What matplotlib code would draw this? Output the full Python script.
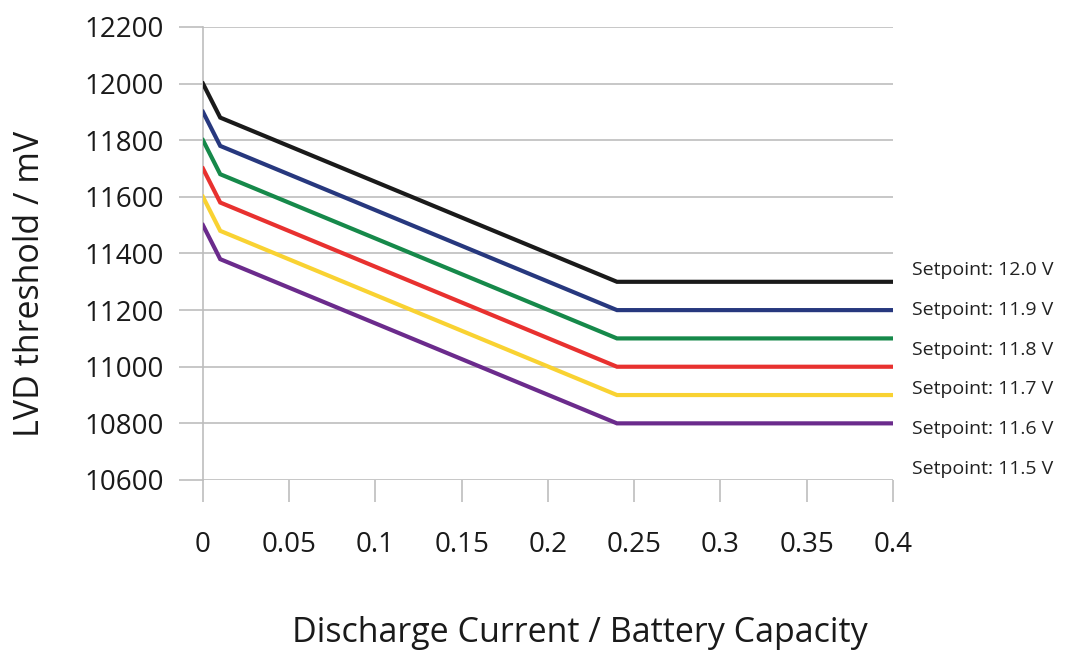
import numpy as np
import matplotlib.pyplot as plt

plt.rcParams['font.family'] = ['Open Sans', 'DejaVu Sans']

# Breakpoints of the LVD curves (discharge current / capacity)
x_points = [0, 0.01, 0.24, 0.4]

# LVD threshold (mV) per setpoint curve
black_mv = [12000, 11880, 11300, 11300]
blue_mv = [11900, 11780, 11200, 11200]
green_mv = [11800, 11680, 11100, 11100]
red_mv = [11700, 11580, 11000, 11000]
yellow_mv = [11600, 11480, 10900, 10900]
purple_mv = [11500, 11380, 10800, 10800]

series = [black_mv, blue_mv, green_mv, red_mv, yellow_mv, purple_mv]
colors = ['#1a1a1a', '#27387e', '#16894a', '#e8312f', '#f9d232', '#6b2b8c']

setpoint_labels = ['Setpoint: 12.0 V', 'Setpoint: 11.9 V', 'Setpoint: 11.8 V',
                   'Setpoint: 11.7 V', 'Setpoint: 11.6 V', 'Setpoint: 11.5 V']
# label heights in data units (they sit slightly off the lines in the original)
label_y = [11340, 11200, 11060, 10920, 10780, 10640]

x_ticks = [0, 0.05, 0.1, 0.15, 0.2, 0.25, 0.3, 0.35, 0.4]
x_ticklabels = ['0', '0.05', '0.1', '0.15', '0.2', '0.25', '0.3', '0.35', '0.4']
y_ticks = np.arange(10600, 12201, 200)

fig = plt.figure(figsize=(10.66, 6.55), dpi=100)
ax = fig.add_axes([0.1904, 0.2672, 0.6473, 0.6916])

grid_col = '#bdbdbd'
for yv in y_ticks:
    ax.axhline(yv, color=grid_col, lw=1.2, zorder=1)

for vals, c in zip(series, colors):
    ax.plot(x_points, vals, color=c, lw=3, solid_joinstyle='miter', zorder=3)

for lab, yv in zip(setpoint_labels, label_y):
    ax.text(0.411, yv, lab, fontsize=14, color='#222222', va='center', ha='left',
            clip_on=False)

ax.set_xlim(0, 0.4)
ax.set_ylim(10600, 12200)

for s in ['top', 'right', 'bottom']:
    ax.spines[s].set_visible(False)
ax.spines['left'].set_color(grid_col)
ax.spines['left'].set_linewidth(1.2)

ax.set_xticks(x_ticks)
ax.set_xticklabels(x_ticklabels)
ax.set_yticks(y_ticks)
ax.set_yticklabels([str(v) for v in y_ticks])
ax.tick_params(axis='y', length=17, width=1.2, color=grid_col, pad=11,
               labelsize=20, labelcolor='#1a1a1a')
ax.tick_params(axis='x', length=16, width=1.2, color=grid_col, pad=21,
               labelsize=20, labelcolor='#1a1a1a')

ax.set_ylabel('LVD threshold / mV', fontsize=24.5, color='#1a1a1a')
ax.set_xlabel('Discharge Current / Battery Capacity', fontsize=24.5, color='#1a1a1a')
ax.yaxis.set_label_coords(-0.226, 0.433)
ax.xaxis.set_label_coords(0.546, -0.300)

fig.savefig('out.png', dpi=100, facecolor='white')
